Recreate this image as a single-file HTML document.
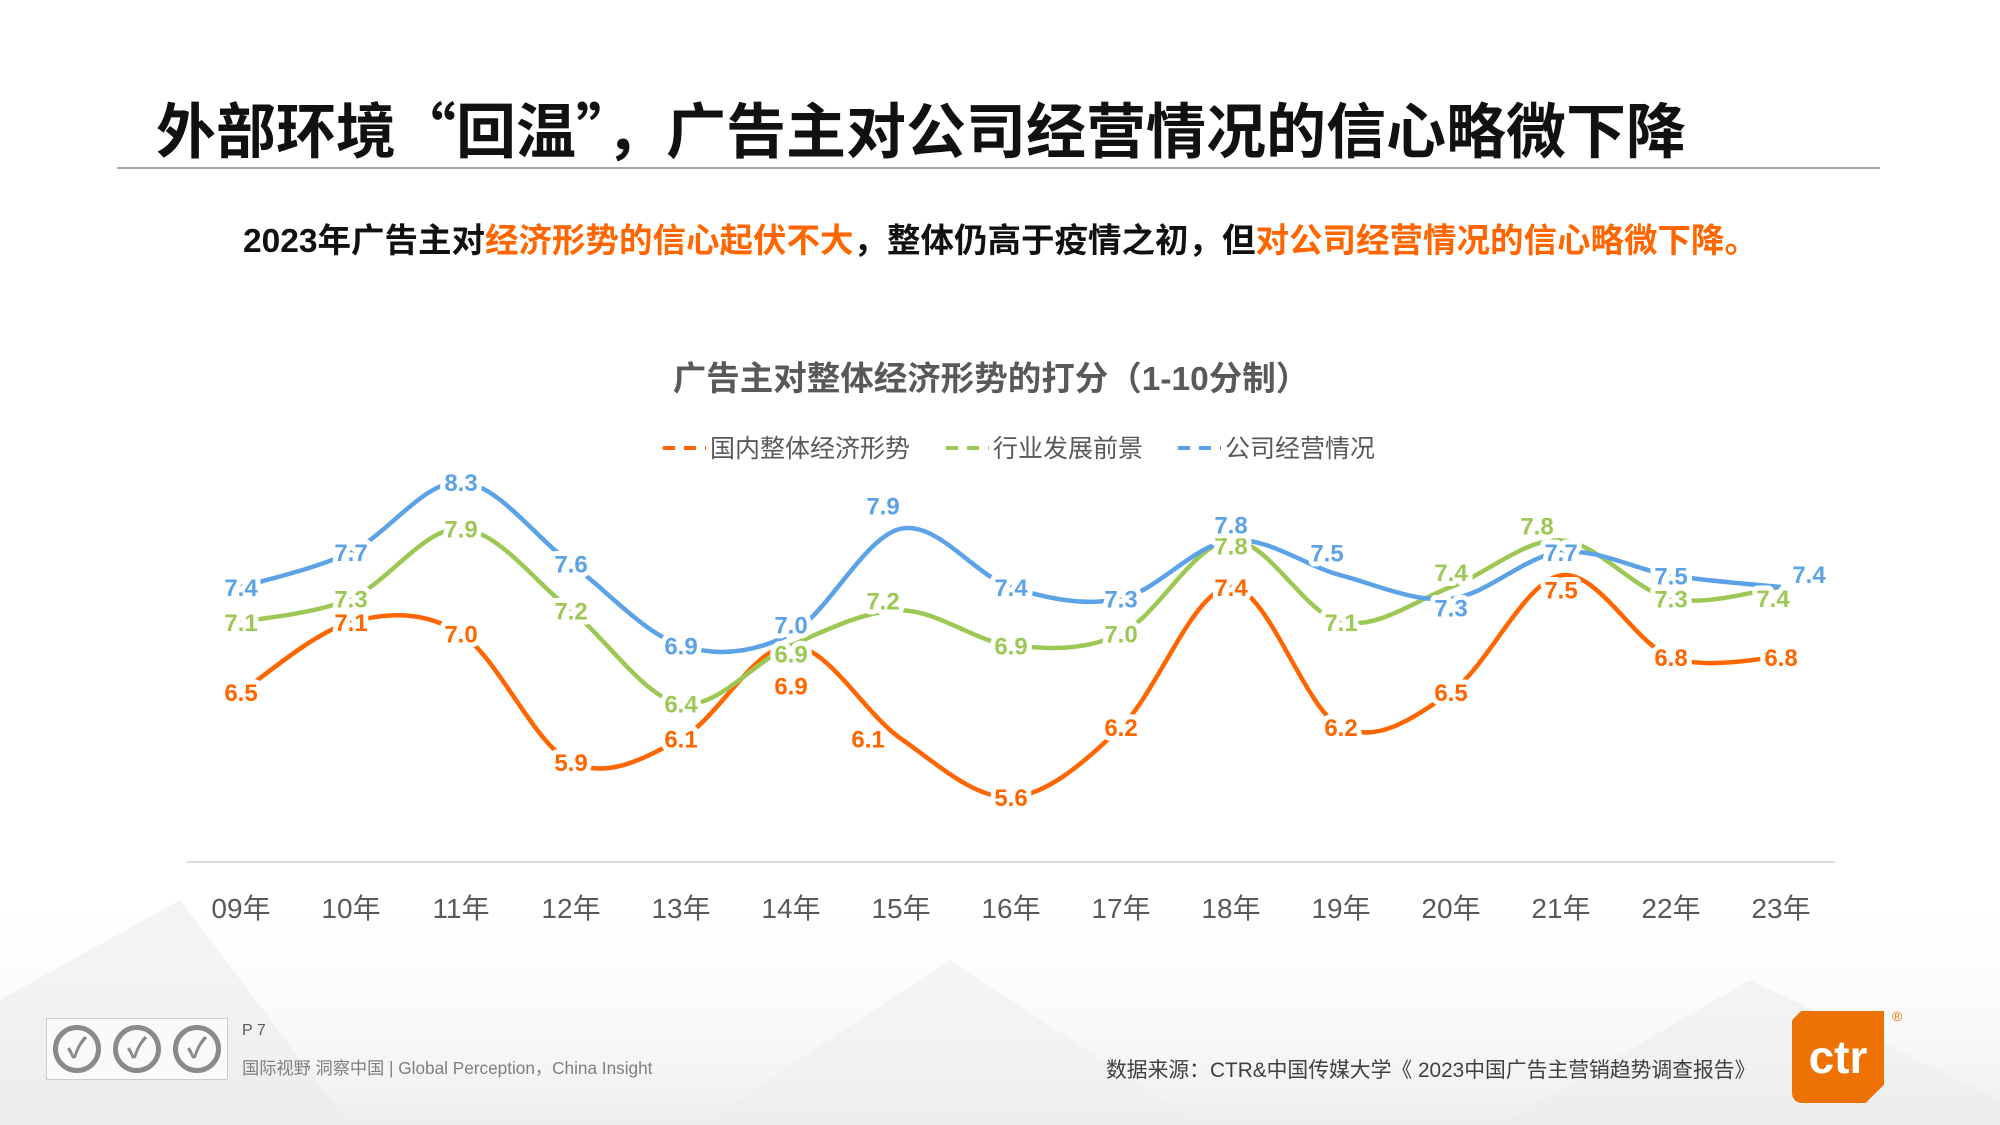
<!DOCTYPE html>
<html><head><meta charset="utf-8">
<style>
body{margin:0;width:2000px;height:1125px;overflow:hidden;background:#fff;font-family:"Liberation Sans","Noto Sans CJK SC",sans-serif;position:relative}
.abs{position:absolute;white-space:nowrap}
.cjk{font-family:"Noto Sans CJK SC",sans-serif}
</style></head>
<body>
<svg class="abs" style="left:0;top:0" width="2000" height="1125">
<defs><linearGradient id="bg" x1="0" y1="0" x2="0" y2="1"><stop offset="0" stop-color="#fff" stop-opacity="0"/><stop offset="1" stop-color="#eeeeee"/></linearGradient></defs>
<rect x="0" y="880" width="2000" height="245" fill="url(#bg)"/>
<polygon points="0,1000 180,900 350,1125 0,1125" fill="#e9e9e9" opacity="0.5"/>
<polygon points="700,1125 950,960 1200,1125" fill="#eeeeee" opacity="0.5"/>
<polygon points="1500,1125 1750,980 2000,1100 2000,1125" fill="#ececec" opacity="0.5"/>
</svg>

<div class="abs" style="left:156px;top:92px;font-size:60px;font-weight:bold;color:#111;line-height:72px">外部环境<span class="cjk">“</span>回温<span class="cjk">”</span>，广告主对公司经营情况的信心略微下降</div>
<div class="abs" style="left:117px;top:167px;width:1763px;height:2px;background:#a6a6a6"></div>
<div class="abs" style="left:243px;top:222px;font-size:33.5px;font-weight:bold;color:#111;line-height:40px">2023年广告主对<span style="color:#FF6600">经济形势的信心起伏不大</span>，整体仍高于疫情之初，但<span style="color:#FF6600">对公司经营情况的信心略微下降。</span></div>

<svg id="chart" class="abs" style="left:0;top:0" width="2000" height="1125"></svg>

<div class="abs" style="left:46px;top:1018px;width:180px;height:60px;border:1px solid #ccc;background:#fafafa;display:flex;justify-content:space-around;align-items:center">
<div style="width:48px;height:48px;border-radius:50%;border:5px solid #8a8a8a;box-sizing:border-box;color:#8a8a8a;font-size:28px;text-align:center;line-height:38px;font-weight:bold">✓</div>
<div style="width:48px;height:48px;border-radius:50%;border:5px solid #8a8a8a;box-sizing:border-box;color:#8a8a8a;font-size:28px;text-align:center;line-height:38px;font-weight:bold">✓</div>
<div style="width:48px;height:48px;border-radius:50%;border:5px solid #8a8a8a;box-sizing:border-box;color:#8a8a8a;font-size:28px;text-align:center;line-height:38px;font-weight:bold">✓</div>
</div>
<div class="abs" style="left:242px;top:1022px;font-size:16px;color:#595959">P 7</div>
<div class="abs" style="left:242px;top:1054px;font-size:17.2px;color:#7f7f7f">国际视野 洞察中国 | Global Perception，China Insight</div>
<div class="abs" style="left:1106px;top:1053px;font-size:20.8px;color:#404040">数据来源：CTR&amp;中国传媒大学《 2023中国广告主营销趋势调查报告》</div>
<div class="abs" style="left:1792px;top:1011px;width:92px;height:92px;background:#EE7203;border-radius:10px 0 10px 10px;color:#fff;font-size:46px;font-weight:bold;line-height:92px;text-align:center;clip-path:polygon(10% 0,100% 0,100% 80%,80% 100%,0 100%,0 10%)">ctr</div>
<div class="abs" style="left:1892px;top:1008px;font-size:14px;color:#EE7203">®</div>

<script>
const categories=["09年","10年","11年","12年","13年","14年","15年","16年","17年","18年","19年","20年","21年","22年","23年"];
const seriesNames=["国内整体经济形势","行业发展前景","公司经营情况"];
const domestic=[6.5,7.1,7.0,5.9,6.1,6.9,6.1,5.6,6.2,7.4,6.2,6.5,7.5,6.8,6.8];
const industry=[7.1,7.3,7.9,7.2,6.4,6.9,7.2,6.9,7.0,7.8,7.1,7.4,7.8,7.3,7.4];
const company=[7.4,7.7,8.3,7.6,6.9,7.0,7.9,7.4,7.3,7.8,7.5,7.3,7.7,7.5,7.4];
const colors=["#FF6600","#9DC855","#5BA3E6"];
const labelNudge={"0,5":[0,40],"0,6":[-33,0],"0,12":[0,14],
"1,5":[0,8],"1,6":[-18,-10],"1,9":[0,5],"1,11":[0,-15],"1,12":[-24,-15],"1,14":[-8,11],
"2,5":[0,-9],"2,6":[-18,-23],"2,9":[0,-16],"2,10":[-14,-23],"2,11":[0,9],"2,14":[28,-13]};

const NS="http://www.w3.org/2000/svg";
const svg=document.getElementById('chart');
const x0=241,dxStep=110,yTop=482,vTop=8.3,pxPerUnit=116.7;
function xs(i){return x0+i*dxStep;}
function ys(v){return yTop+(vTop-v)*pxPerUnit;}
function mk(tag,attrs){const e=document.createElementNS(NS,tag);for(const k in attrs)e.setAttribute(k,attrs[k]);svg.appendChild(e);return e;}

const ct=mk('text',{x:991,y:390,'text-anchor':'middle','font-size':33.5,'font-weight':'bold',fill:'#595959'});
ct.textContent="广告主对整体经济形势的打分（1-10分制）";



const legX=[663,946,1178];
seriesNames.forEach((n,s)=>{
  const g=mk('g',{});
  
  
  const l=document.createElementNS(NS,'line');
  l.setAttribute('x1',legX[s]);l.setAttribute('x2',legX[s]+43);l.setAttribute('y1',448);l.setAttribute('y2',448);
  l.setAttribute('stroke',colors[s]);l.setAttribute('stroke-width',4);l.setAttribute('stroke-dasharray','12 9');
  g.appendChild(l);
  const t=document.createElementNS(NS,'text');
  t.setAttribute('x',legX[s]+47);t.setAttribute('y',457);t.setAttribute('font-size',25);t.setAttribute('fill','#595959');
  t.textContent=n;g.appendChild(t);
});

const ax=mk('line',{x1:187,x2:1835,y1:862,y2:862,stroke:'#d9d9d9','stroke-width':2});


categories.forEach((c,i)=>{
  const t=mk('text',{x:xs(i),y:918,'text-anchor':'middle','font-size':28,fill:'#595959'});
  t.textContent=c;
  
  
});

function pathFor(vals){
  const p=vals.map((v,i)=>[xs(i),ys(v)]);
  let d=`M${p[0][0]},${p[0][1]}`;const t=0.5/3*2;
  for(let i=0;i<p.length-1;i++){
    const a=p[Math.max(0,i-1)],b=p[i],c=p[i+1],e=p[Math.min(p.length-1,i+2)];
    const c1=[b[0]+(c[0]-a[0])*t/2,b[1]+(c[1]-a[1])*t/2];
    const c2=[c[0]-(e[0]-b[0])*t/2,c[1]-(e[1]-b[1])*t/2];
    d+=` C${c1[0]},${c1[1]} ${c2[0]},${c2[1]} ${c[0]},${c[1]}`;
  }
  return d;
}
const all=[domestic,industry,company];
all.forEach((vals,s)=>{
  const p=mk('path',{d:pathFor(vals),fill:'none',stroke:colors[s],'stroke-width':4.5});
  
  
});
all.forEach((vals,s)=>{
  vals.forEach((v,i)=>{
    const n=labelNudge[s+','+i]||[0,0];
    const t=mk('text',{x:xs(i)+n[0],y:ys(v)+n[1]+9,'text-anchor':'middle','font-size':24,'font-weight':'bold',fill:colors[s],stroke:'#fff','stroke-width':10,'paint-order':'stroke','stroke-linejoin':'round'});
    t.textContent=v.toFixed(1);
    
    
  });
});
</script>
</body></html>
